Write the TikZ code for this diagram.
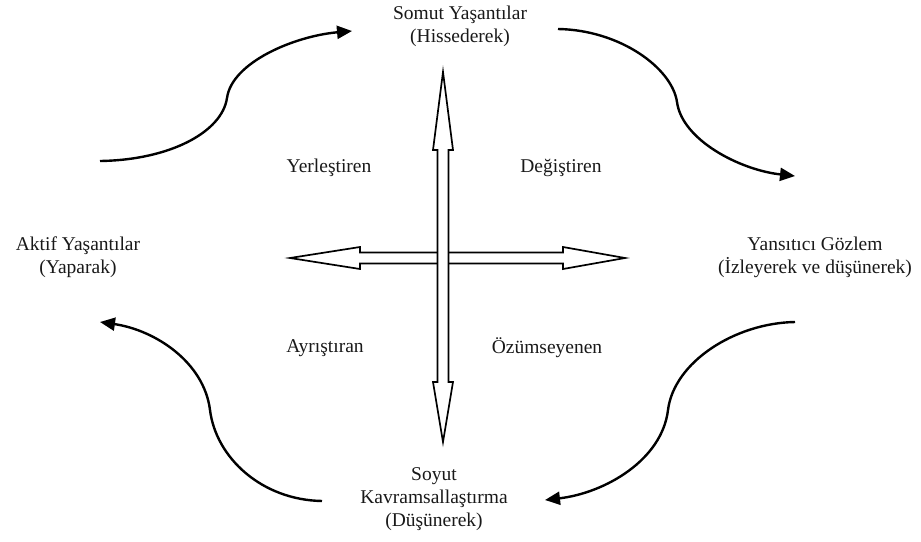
\documentclass[tikz,border=0pt]{standalone}
\usepackage{fontspec}
\setmainfont{Liberation Serif}
\usetikzlibrary{arrows.meta}
\begin{document}
\begin{tikzpicture}[x=1pt,y=-1pt,
  lbl/.style={font=\fontsize{19.5}{23}\selectfont, align=center, inner sep=0pt, text=black!90},
  cyc/.style={line width=2.4pt, -{Triangle[length=15pt,width=13pt]}},
  dbl/.style={draw=black, line width=1.7pt, fill=white, line join=miter}]
\useasboundingbox (0,0) rectangle (921,541);
% labels
\node[lbl] (somut) at (460,26.5) {Somut Yaşantılar\\(Hissederek)};
\node[lbl] (aktif) at (78,257.5) {Aktif Yaşantılar\\(Yaparak)};
\node[lbl] (yansitici) at (815,257.5) {Yansıtıcı Gözlem\\(İzleyerek ve düşünerek)};
\node[lbl] (soyut) at (434,499) {Soyut\\Kavramsallaştırma\\(Düşünerek)};
\node[lbl] (yer) at (329,168) {Yerleştiren};
\node[lbl] (deg) at (561,168) {Değiştiren};
\node[lbl] (ayr) at (325,348) {Ayrıştıran};
\node[lbl] (ozu) at (547,348) {Özümseyenen};
% double arrows
\draw[dbl] (290,258) -- (360,247) -- (360,252.5) -- (563,252.5) -- (563,247) -- (625,258)
  -- (563,269) -- (563,263.5) -- (360,263.5) -- (360,269) -- cycle;
\draw[dbl] (443,72) -- (453,150) -- (448.5,150) -- (448.5,382) -- (453,382) -- (443,442)
  -- (433,382) -- (437.5,382) -- (437.5,150) -- (433,150) -- cycle;
% cycle arrows
\coordinate (a1s) at (100,161);
\coordinate (a1m) at (227,98);
\coordinate (a1e) at (352,31);
\coordinate (a2s) at (558,29);
\coordinate (a2m) at (677,102);
\coordinate (a2e) at (795,176);
\coordinate (a3s) at (795,322);
\coordinate (a3m) at (668,410);
\coordinate (a3e) at (545,500);
\coordinate (a4s) at (322,501);
\coordinate (a4m) at (210,410);
\coordinate (a4e) at (100,322);
\draw[cyc] (a1s) .. controls (170,160) and (222,132) .. (a1m)
  .. controls (232,62) and (295,36) .. (a1e);
\draw[cyc] (a2s) .. controls (620,30) and (672,68) .. (a2m)
  .. controls (682,140) and (740,170) .. (a2e);
\draw[cyc] (a3s) .. controls (735,323) and (674,362) .. (a3m)
  .. controls (662,460) and (605,493) .. (a3e);
\draw[cyc] (a4s) .. controls (262,500) and (216,458) .. (a4m)
  .. controls (204,362) and (155,330) .. (a4e);
\end{tikzpicture}
\end{document}
